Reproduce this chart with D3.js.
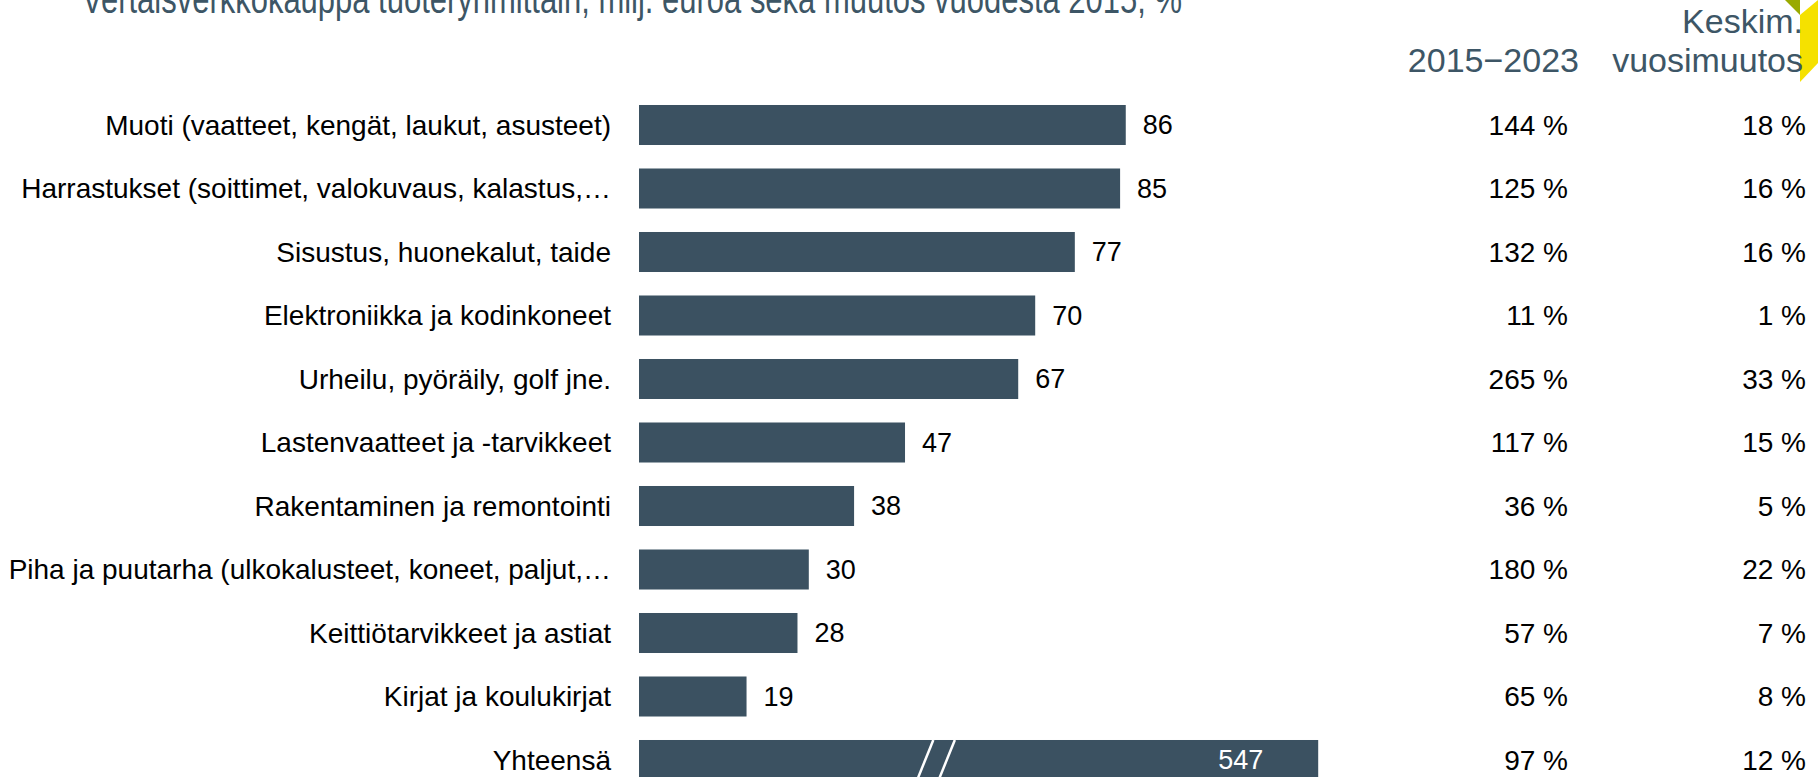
<!DOCTYPE html>
<html>
<head>
<meta charset="utf-8">
<script src="https://cdn.jsdelivr.net/npm/d3@7"></script>
<style>
  html, body { margin: 0; padding: 0; background: #fff; overflow: hidden; }
  svg { display: block; font-family: "Liberation Sans", Arial, sans-serif; }
</style>
</head>
<body>
<div id="chart"></div>
<script>
const categories = [
  "Muoti (vaatteet, kengät, laukut, asusteet)",
  "Harrastukset (soittimet, valokuvaus, kalastus,…",
  "Sisustus, huonekalut, taide",
  "Elektroniikka ja kodinkoneet",
  "Urheilu, pyöräily, golf jne.",
  "Lastenvaatteet ja -tarvikkeet",
  "Rakentaminen ja remontointi",
  "Piha ja puutarha (ulkokalusteet, koneet, paljut,…",
  "Keittiötarvikkeet ja astiat",
  "Kirjat ja koulukirjat",
  "Yhteensä"
];
const sales = [86, 85, 77, 70, 67, 47, 38, 30, 28, 19, 547];
const change2015 = [144, 125, 132, 11, 265, 117, 36, 180, 57, 65, 97];
const annualChange = [18, 16, 16, 1, 33, 15, 5, 22, 7, 8, 12];
const colHeaders = ["2015−2023", ["Keskim.", "vuosimuutos"]];
const title = "Vertaisverkkokauppa tuoteryhmittäin, milj. euroa sekä muutos vuodesta 2015, %";

// broken bar for the total: drawn up to this value, break marks around breakAt
const totalShownAs = 120;
const breakAt = 49;

const width = 1818, height = 777;
const barColor = "#3b5161";
const headColor = "#3d5666";

const svg = d3.select("#chart").append("svg")
  .attr("width", width)
  .attr("height", height);

const x = d3.scaleLinear().domain([0, 100]).range([639, 1205]);
const y = d3.scaleBand().domain(categories).range([93.25, 791.75])
  .paddingInner(0.37).paddingOuter(0.185);

const rows = categories.map((c, i) => ({
  cat: c, v: sales[i], ch: change2015[i], yr: annualChange[i], total: i === categories.length - 1
}));

// title (cut at top edge like the original slide)
svg.append("text")
  .attr("x", 82).attr("y", 13)
  .attr("font-size", 40)
  .attr("fill", headColor)
  .attr("textLength", 1100)
  .attr("lengthAdjust", "spacingAndGlyphs")
  .text(title);

// corner decoration
svg.append("polygon")
  .attr("points", "1785,0 1800,0 1800,15")
  .attr("fill", "#9aaa00");
svg.append("polygon")
  .attr("points", "1800,15 1818,0 1818,63 1800,82")
  .attr("fill", "#f5e100");

// column headers
svg.append("text")
  .attr("x", 1579).attr("y", 72)
  .attr("text-anchor", "end")
  .attr("font-size", 34)
  .attr("fill", headColor)
  .text(colHeaders[0]);
svg.append("text")
  .attr("x", 1803).attr("y", 33)
  .attr("text-anchor", "end")
  .attr("font-size", 34)
  .attr("fill", headColor)
  .text(colHeaders[1][0]);
svg.append("text")
  .attr("x", 1803).attr("y", 72)
  .attr("text-anchor", "end")
  .attr("font-size", 34)
  .attr("fill", headColor)
  .text(colHeaders[1][1]);

// category labels
svg.selectAll(".cat")
  .data(rows)
  .enter()
  .append("text")
  .attr("class", "cat")
  .attr("x", 611)
  .attr("y", d => y(d.cat) + y.bandwidth() / 2)
  .attr("dy", "0.35em")
  .attr("text-anchor", "end")
  .attr("font-size", 28)
  .attr("fill", "#000")
  .text(d => d.cat);

// bars
svg.selectAll(".bar")
  .data(rows)
  .enter()
  .append("rect")
  .attr("class", "bar")
  .attr("x", x(0))
  .attr("y", d => y(d.cat))
  .attr("width", d => x(d.total ? totalShownAs : d.v) - x(0))
  .attr("height", y.bandwidth())
  .attr("fill", barColor);

// break marks on the total bar
const tot = rows[rows.length - 1];
[0, 3.8].forEach(off => {
  svg.append("line")
    .attr("x1", x(breakAt + off))
    .attr("y1", y(tot.cat) + y.bandwidth() + 2)
    .attr("x2", x(breakAt + off + 3))
    .attr("y2", y(tot.cat))
    .attr("stroke", "#fff")
    .attr("stroke-width", 2.5);
});

// value labels
svg.selectAll(".val")
  .data(rows)
  .enter()
  .append("text")
  .attr("class", "val")
  .attr("x", d => d.total ? x(totalShownAs) - 55 : x(d.v) + 17)
  .attr("y", d => y(d.cat) + y.bandwidth() / 2)
  .attr("dy", "0.35em")
  .attr("text-anchor", d => d.total ? "end" : "start")
  .attr("font-size", 27)
  .attr("fill", d => d.total ? "#fff" : "#000")
  .text(d => d.v);

// right-hand columns
svg.selectAll(".ch")
  .data(rows)
  .enter()
  .append("text")
  .attr("class", "ch")
  .attr("x", 1568)
  .attr("y", d => y(d.cat) + y.bandwidth() / 2)
  .attr("dy", "0.35em")
  .attr("text-anchor", "end")
  .attr("font-size", 28)
  .attr("fill", "#000")
  .text(d => d.ch + " %");

svg.selectAll(".yr")
  .data(rows)
  .enter()
  .append("text")
  .attr("class", "yr")
  .attr("x", 1806)
  .attr("y", d => y(d.cat) + y.bandwidth() / 2)
  .attr("dy", "0.35em")
  .attr("text-anchor", "end")
  .attr("font-size", 28)
  .attr("fill", "#000")
  .text(d => d.yr + " %");
</script>
</body>
</html>
